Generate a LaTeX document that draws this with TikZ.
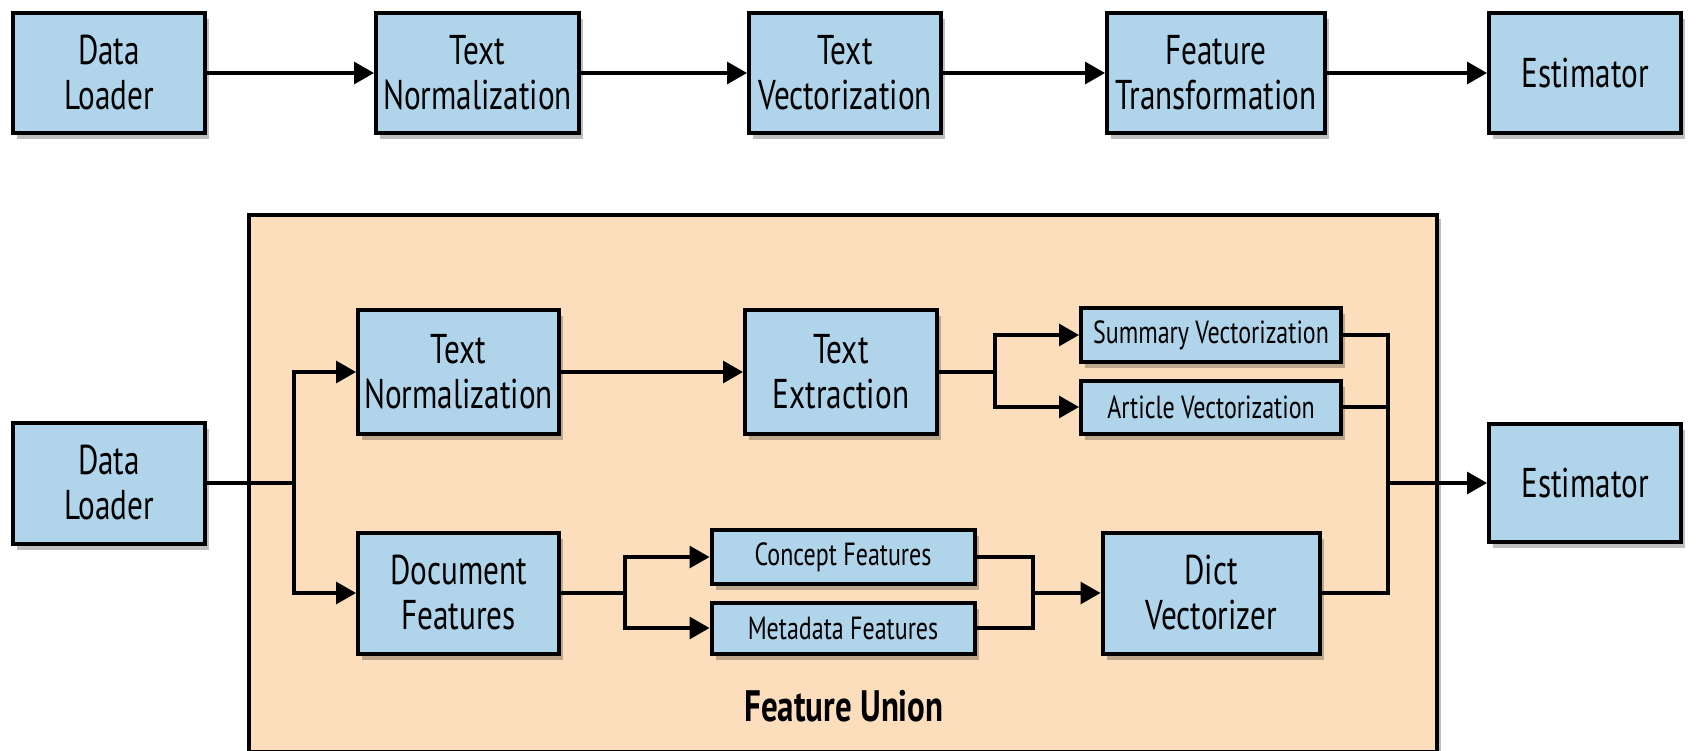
\documentclass[tikz,border=0pt]{standalone}
\usepackage{fontspec}
\setmainfont[FakeStretch=0.75]{PT Sans}
\usetikzlibrary{arrows.meta,shadows,positioning}
\definecolor{boxblue}{RGB}{176,212,234}
\definecolor{peach}{RGB}{252,222,188}
\tikzset{
  pbox/.style={draw=black, line width=2pt, fill=boxblue, align=center, inner sep=0pt,
    font=\fontsize{20.8}{22.5}\selectfont,
    drop shadow={shadow xshift=2pt, shadow yshift=-3pt, opacity=0.25, fill=black}},
  sbox/.style={pbox, font=\fontsize{16}{17}\selectfont},
  wire/.style={line width=1.6pt},
  arr/.style={wire, -{Triangle[length=10pt,width=11pt]}},
  fubox/.style={draw=black, line width=2pt, fill=peach, inner sep=0pt,
    drop shadow={shadow xshift=2pt, shadow yshift=-2pt, opacity=0.25, fill=black}}
}
\begin{document}
\begin{tikzpicture}[x=0.5pt,y=-0.5pt]
\useasboundingbox (0,0) rectangle (1696,750);
% top row
\node[pbox, minimum width=96pt, minimum height=60pt] (dla) at (109,73) {Data\\Loader};
\node[pbox, minimum width=101.5pt, minimum height=60pt] (tna) at (477.5,73) {Text\\Normalization};
\node[pbox, minimum width=96pt, minimum height=60pt] (tva) at (845,73) {Text\\Vectorization};
\node[pbox, minimum width=109pt, minimum height=60pt] (fta) at (1216,73) {Feature\\Transformation};
\node[pbox, minimum width=96pt, minimum height=60pt] (esa) at (1585,73) {Estimator};
\draw[arr] (dla) -- (tna);
\draw[arr] (tna) -- (tva);
\draw[arr] (tva) -- (fta);
\draw[arr] (fta) -- (esa);
% feature union
\node[fubox, minimum width=594pt, minimum height=268.5pt] (fu) at (843,483) {};
\node[font=\fontsize{22}{24}\selectfont\bfseries] (ful) at (844,706) {Feature Union};
% bottom
\node[pbox, minimum width=96pt, minimum height=60.5pt] (dlb) at (109,483) {Data\\Loader};
\node[pbox, minimum width=100.5pt, minimum height=62pt] (tnb) at (458.5,372) {Text\\Normalization};
\node[pbox, minimum width=96pt, minimum height=62pt] (te) at (841,372) {Text\\Extraction};
\node[sbox, minimum width=130pt, minimum height=27pt] (sv) at (1211,335) {Summary Vectorization};
\node[sbox, minimum width=130pt, minimum height=26.5pt] (av) at (1211,407) {Article Vectorization};
\node[pbox, minimum width=100.5pt, minimum height=60.5pt] (df) at (458.5,593) {Document\\Features};
\node[sbox, minimum width=131.5pt, minimum height=27pt] (cf) at (843,557) {Concept Features};
\node[sbox, minimum width=131.5pt, minimum height=25.5pt] (mf) at (843,628) {Metadata Features};
\node[pbox, minimum width=108.5pt, minimum height=60.5pt] (dv) at (1211,593) {Dict\\Vectorizer};
\node[pbox, minimum width=96pt, minimum height=59pt] (esb) at (1585,483) {Estimator};
\coordinate (b1) at (294,483);
\coordinate (b2) at (995,372);
\coordinate (b3) at (625,593);
\coordinate (b4) at (1033,593);
\coordinate (j) at (1388,483);
\draw[wire] (dlb.east) -- (b1);
\draw[arr] (b1) |- (tnb.west);
\draw[arr] (b1) |- (df.west);
\draw[arr] (tnb) -- (te);
\draw[wire] (te.east) -- (b2);
\draw[arr] (b2) |- (sv.west);
\draw[arr] (b2) |- (av.west);
\draw[wire] (df.east) -- (b3);
\draw[arr] (b3) |- (cf.west);
\draw[arr] (b3) |- (mf.west);
\draw[wire] (cf.east) -| (b4);
\draw[wire] (mf.east) -| (b4);
\draw[arr] (b4) -- (dv.west);
\draw[wire] (sv.east) -| (j);
\draw[wire] (av.east) -| (j);
\draw[wire] (dv.east) -| (j);
\draw[arr] (j) -- (esb.west);
\end{tikzpicture}
\end{document}
